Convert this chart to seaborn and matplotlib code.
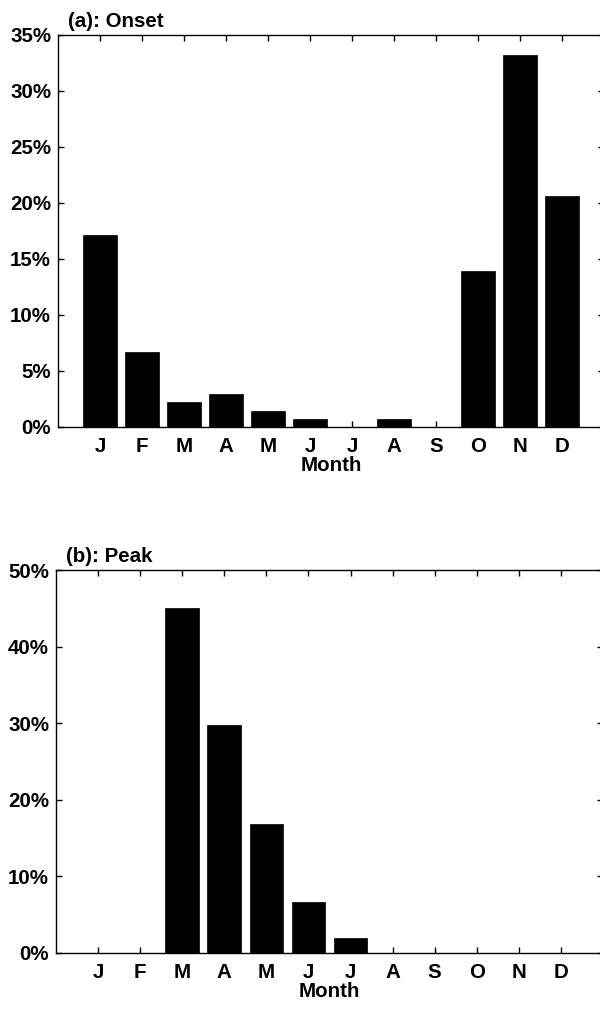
import matplotlib
matplotlib.use("Agg")
import matplotlib.pyplot as plt
import seaborn as sns
import pandas as pd
from matplotlib.ticker import FuncFormatter

months = ["Jan", "Feb", "Mar", "Apr", "May", "Jun", "Jul", "Aug", "Sep", "Oct", "Nov", "Dec"]
tick_labels = ["J", "F", "M", "A", "M", "J", "J", "A", "S", "O", "N", "D"]
onset_pct = [17.1, 6.7, 2.2, 2.95, 1.45, 0.7, 0.0, 0.7, 0.0, 13.95, 33.2, 20.6]
peak_pct = [0.0, 0.0, 45.1, 29.8, 16.9, 6.7, 2.0, 0.0, 0.0, 0.0, 0.0, 0.0]
onset_yticks = [0, 5, 10, 15, 20, 25, 30, 35]
peak_yticks = [0, 10, 20, 30, 40, 50]

sns.set_theme(style="ticks")
plt.rcParams["font.family"] = ["Liberation Sans", "DejaVu Sans"]
plt.rcParams["font.weight"] = "bold"
for k in ["text.color", "axes.labelcolor", "xtick.color", "ytick.color", "axes.edgecolor"]:
    plt.rcParams[k] = "black"

FS = 14.8

fig = plt.figure(figsize=(6.0, 10.15), dpi=100)

panels = [
    ("(a): Onset", onset_pct, onset_yticks, 35, [58 / 600, 1 - 427 / 1015, 546 / 600, 392 / 1015]),
    ("(b): Peak", peak_pct, peak_yticks, 50, [56 / 600, 1 - 953 / 1015, 547 / 600, 383 / 1015]),
]

for title, vals, yticks, ymax, rect in panels:
    ax = fig.add_axes(rect)
    df = pd.DataFrame({"month": months, "pct": vals})
    sns.barplot(data=df, x="month", y="pct", order=months, color="black",
                edgecolor="black", linewidth=0.5, width=0.8, saturation=1, ax=ax)
    ax.set_xlim(-1, 12)
    ax.set_ylim(0, ymax)
    ax.set_xticks(range(12))
    ax.set_xticklabels(tick_labels, fontsize=FS, fontweight="bold", color="black")
    ax.set_yticks(yticks)
    ax.yaxis.set_major_formatter(FuncFormatter(lambda v, p: f"{int(v)}%"))
    for lab in ax.get_yticklabels():
        lab.set_fontsize(FS)
        lab.set_fontweight("bold")
        lab.set_color("black")
    ax.tick_params(axis="both", direction="in", length=4, width=1, color="black",
                   labelcolor="black", top=True, right=True, pad=5)
    ax.tick_params(axis="x", pad=7)
    for s in ax.spines.values():
        s.set_visible(True)
        s.set_linewidth(1.0)
        s.set_color("black")
    ax.set_xlabel("Month", fontsize=FS, fontweight="bold", labelpad=0, color="black")
    ax.set_ylabel("")
    ax.text(0.018, 1.01, title, transform=ax.transAxes, ha="left", va="bottom",
            fontsize=FS, fontweight="bold", color="black")

fig.savefig("out.png", dpi=100, facecolor="white")
